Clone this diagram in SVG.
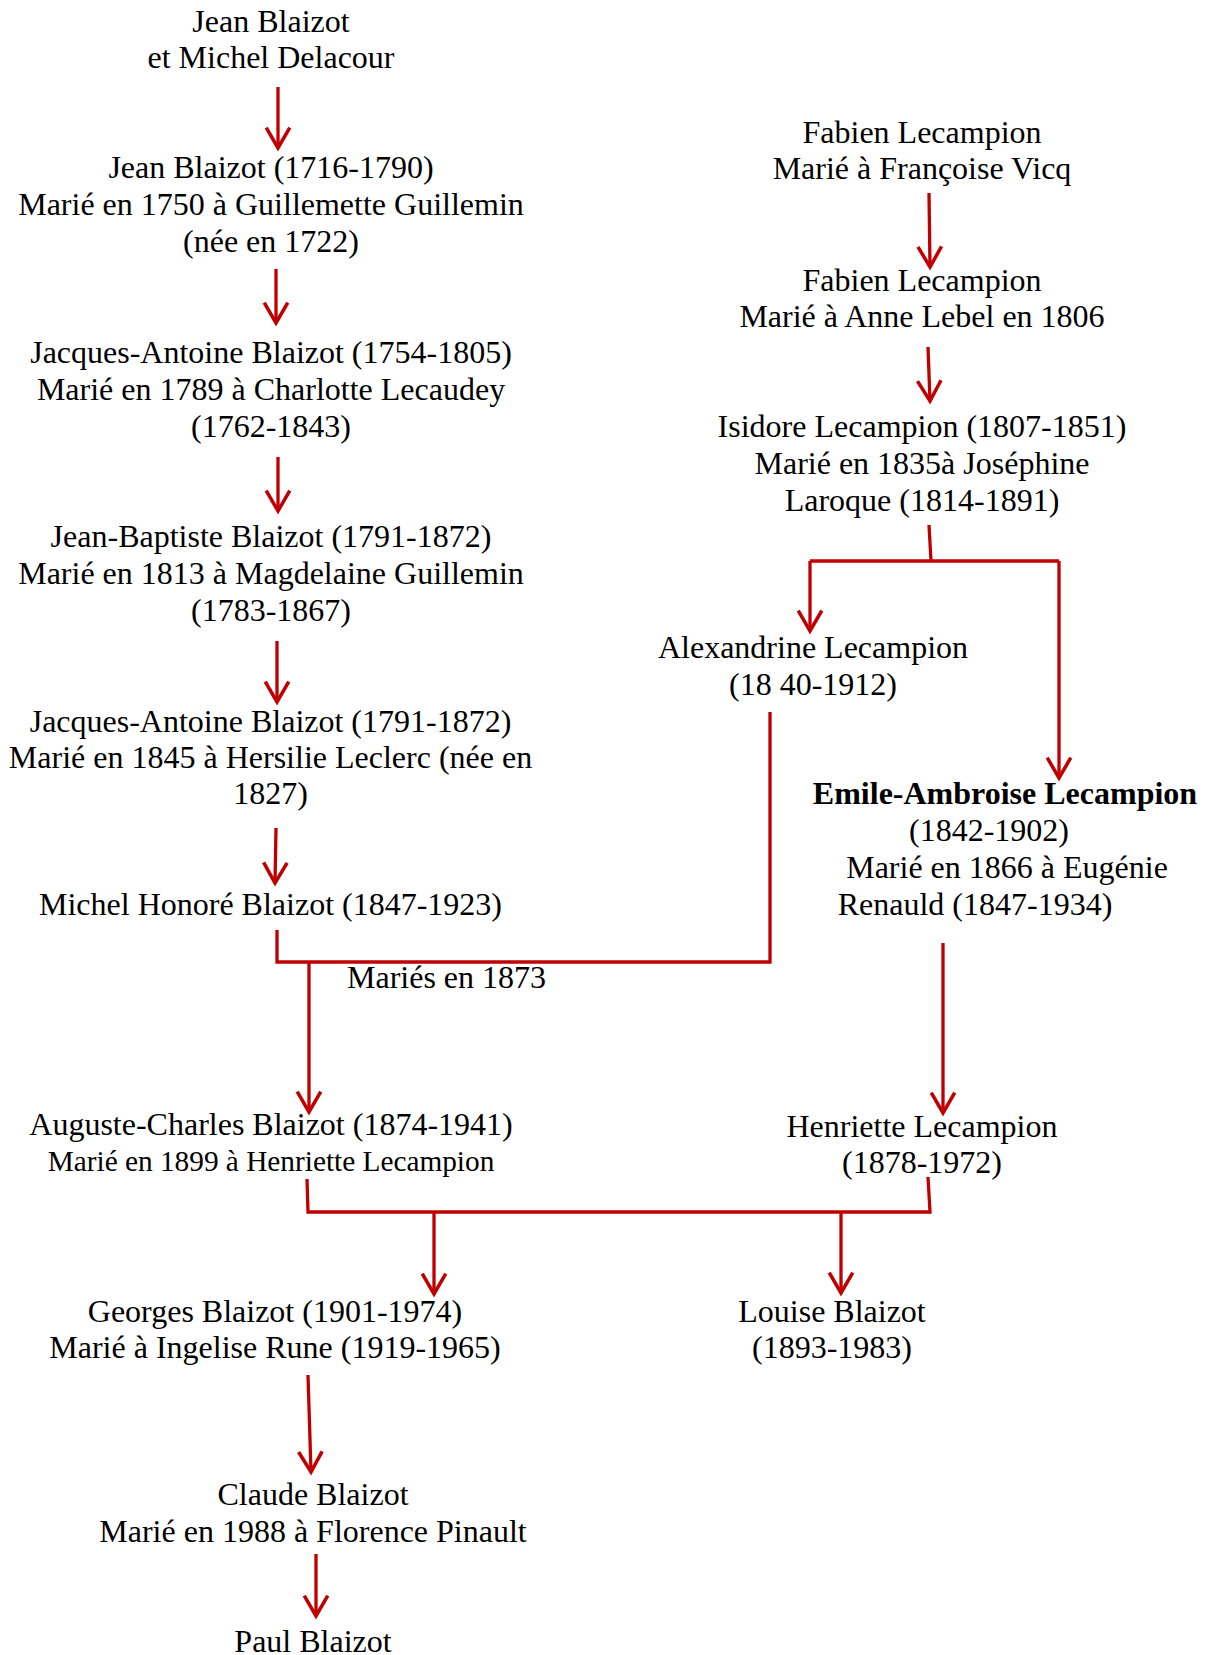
<svg xmlns="http://www.w3.org/2000/svg" width="1210" height="1655" viewBox="0 0 1210 1655">
<defs>
<style>
text{font-family:"Liberation Serif","Times New Roman",serif;font-size:32px;fill:#000;text-anchor:middle}
.sm{font-size:29.3px}
.b{font-weight:bold}
.lbl{text-anchor:start}
.c{fill:none;stroke:#C00000;stroke-width:3.3}
</style>
<marker id="ah" markerUnits="userSpaceOnUse" orient="auto" refX="0" refY="0" markerWidth="30" markerHeight="30" viewBox="-22 -14 26 28" overflow="visible">
<path d="M-19,-11 L0,0 L-19,11" fill="none" stroke="#C00000" stroke-width="3.3"/>
</marker>
</defs>
<rect width="1210" height="1655" fill="#fff"/>
<g id="connectors">
<path class="c" d="M278,87 L278,148" marker-end="url(#ah)"/>
<path class="c" d="M276,269 L276,323" marker-end="url(#ah)"/>
<path class="c" d="M278,457 L278,511" marker-end="url(#ah)"/>
<path class="c" d="M277,641 L277,702" marker-end="url(#ah)"/>
<path class="c" d="M276,828 L275,883" marker-end="url(#ah)"/>
<path class="c" d="M277,930 L277,962 L770,962 L770,712"/>
<path class="c" d="M309,962 L309,1112" marker-end="url(#ah)"/>
<path class="c" d="M929,193 L930,267" marker-end="url(#ah)"/>
<path class="c" d="M928,347 L930,401" marker-end="url(#ah)"/>
<path class="c" d="M929,525 L931,561"/>
<path class="c" d="M810,561 L1059,561"/>
<path class="c" d="M810,561 L810,631" marker-end="url(#ah)"/>
<path class="c" d="M1059,561 L1059,778" marker-end="url(#ah)"/>
<path class="c" d="M943,943 L943,1113" marker-end="url(#ah)"/>
<path class="c" d="M307,1179 L308,1212 L930,1212 L928,1177"/>
<path class="c" d="M434,1212 L434,1294" marker-end="url(#ah)"/>
<path class="c" d="M841,1212 L841,1293" marker-end="url(#ah)"/>
<path class="c" d="M308,1375 L311,1472" marker-end="url(#ah)"/>
<path class="c" d="M316,1554 L316,1616" marker-end="url(#ah)"/>
<text class="lbl" x="347" y="988">Mariés en 1873</text>
</g>
<g id="n1"><text x="271" y="32">Jean Blaizot</text><text x="271" y="68">et Michel Delacour</text></g>
<g id="n2"><text x="271" y="178">Jean Blaizot (1716-1790)</text><text x="271" y="215">Marié en 1750 à Guillemette Guillemin</text><text x="271" y="252">(née en 1722)</text></g>
<g id="n3"><text x="271" y="363">Jacques-Antoine Blaizot (1754-1805)</text><text x="271" y="400">Marié en 1789 à Charlotte Lecaudey</text><text x="271" y="437">(1762-1843)</text></g>
<g id="n4"><text x="271" y="547">Jean-Baptiste Blaizot (1791-1872)</text><text x="271" y="584">Marié en 1813 à Magdelaine Guillemin</text><text x="271" y="621">(1783-1867)</text></g>
<g id="n5"><text x="270.5" y="732">Jacques-Antoine Blaizot (1791-1872)</text><text x="270.5" y="768">Marié en 1845 à Hersilie Leclerc (née en</text><text x="270.5" y="804">1827)</text></g>
<g id="n6"><text x="270.5" y="915">Michel Honoré Blaizot (1847-1923)</text></g>
<g id="n7"><text x="271" y="1135">Auguste-Charles Blaizot (1874-1941)</text><text class="sm" x="271" y="1171">Marié en 1899 à Henriette Lecampion</text></g>
<g id="n8"><text x="275" y="1322">Georges Blaizot (1901-1974)</text><text x="275" y="1358">Marié à Ingelise Rune (1919-1965)</text></g>
<g id="n9"><text x="313" y="1505">Claude Blaizot</text><text x="313" y="1542">Marié en 1988 à Florence Pinault</text></g>
<g id="n10"><text x="313" y="1652">Paul Blaizot</text></g>
<g id="nA"><text x="922" y="143">Fabien Lecampion</text><text x="922" y="179">Marié à Françoise Vicq</text></g>
<g id="nB"><text x="922" y="291">Fabien Lecampion</text><text x="922" y="327">Marié à Anne Lebel en 1806</text></g>
<g id="nC"><text x="922" y="437">Isidore Lecampion (1807-1851)</text><text x="922" y="474">Marié en 1835à Joséphine</text><text x="922" y="511">Laroque (1814-1891)</text></g>
<g id="nD"><text x="813" y="658">Alexandrine Lecampion</text><text x="813" y="695">(18 40-1912)</text></g>
<g id="nE"><text class="b" x="1005" y="804">Emile-Ambroise Lecampion</text><text x="989" y="841">(1842-1902)</text><text x="1007" y="878">Marié en 1866 à Eugénie</text><text x="975" y="915">Renauld (1847-1934)</text></g>
<g id="nF"><text x="922" y="1137">Henriette Lecampion</text><text x="922" y="1173">(1878-1972)</text></g>
<g id="nG"><text x="832" y="1322">Louise Blaizot</text><text x="832" y="1358">(1893-1983)</text></g>
</svg>
